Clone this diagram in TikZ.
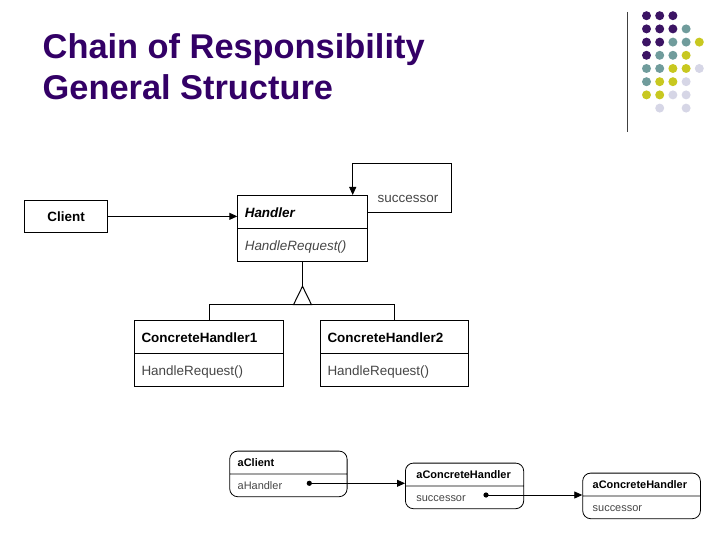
\documentclass[tikz,border=0pt]{standalone}
\usepackage{fontspec}
\setmainfont{Liberation Sans}
\usetikzlibrary{calc, arrows.meta, positioning, shapes.multipart}

\definecolor{titlepurple}{RGB}{51,0,102}
\definecolor{dotp}{RGB}{60,20,100}
\definecolor{dott}{RGB}{112,156,156}
\definecolor{doty}{RGB}{200,200,32}
\definecolor{dotl}{RGB}{214,214,230}
\definecolor{textgray}{RGB}{70,70,70}

\newcommand{\bigstrut}{\rule[-11bp]{0pt}{32bp}}
\newcommand{\smallstrut}{\rule[-7bp]{0pt}{22bp}}

\begin{document}
\begin{tikzpicture}[x=1bp, y=-1bp, >={Triangle[length=8bp,width=7bp]}, line/.style={draw=black, line width=1bp}, thinline/.style={draw=black, line width=0.8bp}]
% Define styles for classes, objects and title
\tikzstyle{classbox} = [draw, line width=1bp, rectangle split, rectangle split parts=2, inner ysep=0pt, inner xsep=7bp, align=left, anchor=north west, font=\fontsize{13.5}{16}\selectfont]
\tikzstyle{objbox} = [draw, line width=0.8bp, rounded corners=8bp, rectangle split, rectangle split parts=2, inner ysep=0pt, align=left, anchor=north west, font=\fontsize{11}{13}\selectfont]
\tikzstyle{titletext} = [anchor=base west, inner sep=0pt, text=titlepurple, font=\fontsize{34.5}{41}\selectfont\bfseries]

\useasboundingbox (0,0) rectangle (720,540);

% Title and dots
\node [titletext] (title) at (42.5,58.3) {Chain of Responsibility};
\node [titletext] (subtitle) at (42.5,100) {General Structure};
\draw [draw=black!75, line width=1bp] (627,12) -- (627,132);
\foreach \r/\cols in {0/{dotp,dotp,dotp}, 1/{dotp,dotp,dotp,dott}, 2/{dotp,dotp,dott,dott,doty}, 3/{dotp,dott,dott,doty}, 4/{dott,dott,doty,doty,dotl}, 5/{dott,doty,doty,dotl}, 6/{doty,doty,dotl,dotl}, 7/{none,dotl,none,dotl}}
  \foreach \c [count=\i from 0] in \cols
    \path [fill=\c] (646.5+13.2*\i, 15.7+13.2*\r) circle (4.5bp);

% Nodes placement
\node [draw, line width=1bp, anchor=north west, minimum width=83.3bp, minimum height=31.7bp, font=\fontsize{13.5}{16}\selectfont] (client) at (24,200) {\textbf{Client}};
\node [classbox, text width=115.4bp] (handler) at (237.3,195) {\bigstrut\textbf{\textit{Handler}} \nodepart{two} \bigstrut\textcolor{textgray}{\textit{HandleRequest()}}};
\node [classbox, text width=135bp] (ch1) at (134,320) {\bigstrut\textbf{ConcreteHandler1} \nodepart{two} \bigstrut\textcolor{textgray}{HandleRequest()}};
\node [classbox, text width=134bp] (ch2) at (320,320) {\bigstrut\textbf{ConcreteHandler2} \nodepart{two} \bigstrut\textcolor{textgray}{HandleRequest()}};
\node [font=\fontsize{13.5}{16}\selectfont, text=textgray] (succlabel) at (408,199) {successor};

\node [objbox, text width=101.4bp, inner xsep=8bp] (aclient) at (229.3,450.7) {\smallstrut\textbf{aClient} \nodepart{two} \smallstrut\textcolor{textgray}{aHandler}};
\node [objbox, text width=96.3bp, inner xsep=11bp] (ach1) at (405,462.7) {\smallstrut\textbf{aConcreteHandler} \nodepart{two} \smallstrut\textcolor{textgray}{successor}};
\node [objbox, text width=97.7bp, inner xsep=10bp] (ach2) at (582.3,472.7) {\smallstrut\textbf{aConcreteHandler} \nodepart{two} \smallstrut\textcolor{textgray}{successor}};

% Draw edges
\draw [line,->] (client) -- (client -| handler.west);
\draw [line,->] ($(handler.north east)+(0,17.7)$) -| ++(83.3,-49.4) -| ($(handler.north west)+(115.4,0)$);

% Generalization
\draw [line] (handler.south) -- ++(0,24.3) coordinate (apex);
\draw [line, fill=white] (apex) -- ++(-9,18.4) -- ++(18,0) -- cycle;
\draw [line] (ch1.north) |- ($(apex)+(0,18.4)$) -| (ch2.north);

% Object references
\coordinate (hdot) at ($(aclient.north west)+(80,32.6)$);
\coordinate (sdot) at ($(ach1.north west)+(81,32.3)$);
\fill (hdot) circle (2.6bp);
\fill (sdot) circle (2.6bp);
\draw [thinline,->] (hdot) -- (hdot -| ach1.west);
\draw [thinline,->] (sdot) -- (sdot -| ach2.west);

\end{tikzpicture}
\end{document}
